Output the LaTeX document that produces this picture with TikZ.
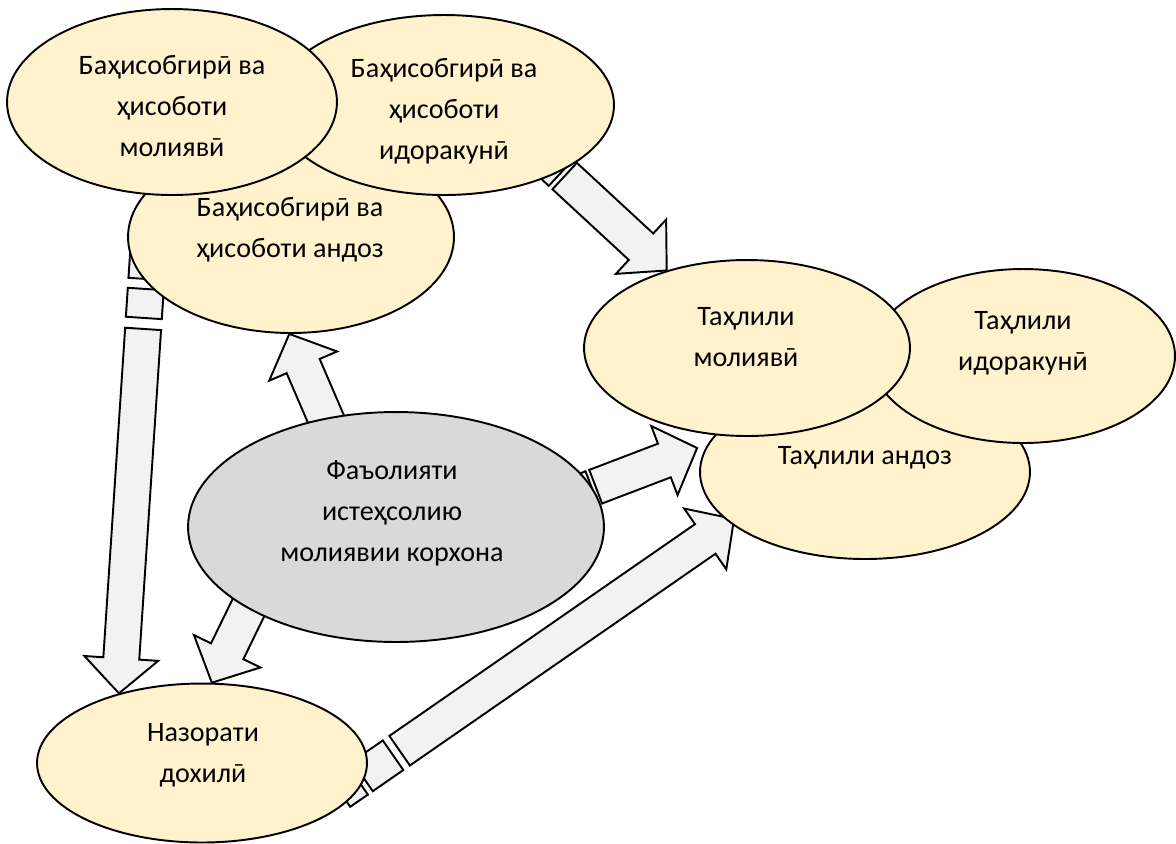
\documentclass[tikz,border=0pt]{standalone}
\usepackage{fontspec}
\setmainfont{Carlito}
\usetikzlibrary{shapes.geometric,calc,backgrounds}
\definecolor{cream}{HTML}{FFF2CC}
\definecolor{firmgray}{HTML}{D9D9D9}
\definecolor{arrowfill}{HTML}{F2F2F2}
\tikzset{
  bubble/.style={ellipse, draw, line width=1.1pt, fill=cream, inner sep=0pt},
  txt/.style={align=center, inner sep=0pt, font=\fontsize{16pt}{23.3pt}\selectfont},
  blockarr/.style={draw, line width=1.1pt, fill=arrowfill, line join=miter}
}
% block arrow from #1 (tail) to #2 (tip)
\newcommand{\blockarrow}[2]{%
  \coordinate (ba-t) at (#1);
  \coordinate (ba-p) at (#2);
  \coordinate (ba-b) at ($(ba-p)!0.7cm!(ba-t)$);
  \draw[blockarr] ($(ba-t)!0.36cm!90:(ba-p)$) -- ($(ba-b)!0.36cm!90:(ba-p)$)
    -- ($(ba-b)!0.74cm!90:(ba-p)$) -- (ba-p) -- ($(ba-b)!0.74cm!-90:(ba-p)$)
    -- ($(ba-b)!0.36cm!-90:(ba-p)$) -- ($(ba-t)!0.36cm!-90:(ba-p)$) -- cycle;}
% cut in the last block arrow, at fraction #1, half width #2
\newcommand{\arrowgap}[2]{%
  \coordinate (ag-a) at ($(ba-t)!#1!(ba-p)$);
  \coordinate (ag-b) at ($(ag-a)!#2!(ba-p)$);
  \coordinate (ag-c) at ($(ag-a)!-#2!(ba-p)$);
  \fill[white] ($(ag-b)!0.45cm!90:(ba-p)$) -- ($(ag-b)!0.45cm!-90:(ba-p)$)
    -- ($(ag-c)!0.45cm!-90:(ba-p)$) -- ($(ag-c)!0.45cm!90:(ba-p)$) -- cycle;
  \draw[line width=1.1pt, line cap=rect] ($(ag-b)!0.36cm!90:(ba-p)$) -- ($(ag-b)!0.36cm!-90:(ba-p)$);
  \draw[line width=1.1pt, line cap=rect] ($(ag-c)!0.36cm!90:(ba-p)$) -- ($(ag-c)!0.36cm!-90:(ba-p)$);}

\begin{document}
\begin{tikzpicture}[x=0.02cm, y=-0.02cm]
    \useasboundingbox (0,0) rectangle (1176,843);
    % accounting
    \node[bubble, minimum width=6.52cm, minimum height=3.84cm] (tax-acc) at (291,237) {};
    \node[txt] (tax-acc-t) at ($(tax-acc.center)+(-1,-7)$) {Баҳисобгирӣ ва\\ҳисоботи андоз};
    \node[bubble, minimum width=6.8cm, minimum height=3.6cm] (mgmt-acc) at (444,105) {};
    \node[txt] (mgmt-acc-t) at ($(mgmt-acc.center)+(0,6)$) {Баҳисобгирӣ ва\\ҳисоботи\\идоракунӣ};
    \node[bubble, minimum width=6.6cm, minimum height=3.72cm] (fin-acc) at (172,102) {};
    \node[txt] (fin-acc-t) at ($(fin-acc.center)+(0,4)$) {Баҳисобгирӣ ва\\ҳисоботи\\молиявӣ};
    % analysis
    \node[bubble, minimum width=6.6cm, minimum height=3.48cm] (tax-an) at (865,472) {};
    \node[txt] (tax-an-t) at ($(tax-an.center)+(0,-14)$) {Таҳлили андоз};
    \node[bubble, minimum width=6.08cm, minimum height=3.48cm] (mgmt-an) at (1023,356) {};
    \node[txt] (mgmt-an-t) at ($(mgmt-an.center)+(0,-13)$) {Таҳлили\\идоракунӣ};
    \node[bubble, minimum width=6.52cm, minimum height=3.52cm] (fin-an) at (747,348) {};
    \node[txt] (fin-an-t) at ($(fin-an.center)+(-1,-11)$) {Таҳлили\\молиявӣ};
    % firm and control
    \node[bubble, fill=firmgray, minimum width=8.32cm, minimum height=4.6cm] (firm) at (396,527) {};
    \node[txt] (firm-t) at ($(firm.center)+(-4,-14)$) {Фаъолияти\\истеҳсолию\\молиявии корхона};
    \node[bubble, minimum width=6.6cm, minimum height=3.18cm] (control) at (202,763) {};
    \node[txt] (control-t) at ($(control.center)+(1,-8)$) {Назорати\\дохилӣ};

    \begin{pgfonlayer}{background}
    \blockarrow{$(tax-acc.center)+(-142,3)$}{control.140}
    \arrowgap{0.097}{0.1cm}
    \arrowgap{0.184}{0.11cm}
    \blockarrow{$(mgmt-acc.center)+(86,39)$}{fin-an.136}
    \arrowgap{0.24}{0.05cm}
    \blockarrow{$(firm.center)+(-55,-73)$}{tax-acc.-91}
    \blockarrow{$(firm.center)+(-118,20)$}{control.83}
    \blockarrow{$(firm.center)+(115,-8)$}{$(tax-an.west)+(-2,-24)$}
    \arrowgap{0.445}{0.04cm}
    \blockarrow{$(control.center)+(138,29)$}{$(tax-an.center)+(-131,47)$}
    \arrowgap{0.143}{0.08cm}
    \arrowgap{0.051}{0.06cm}
    \end{pgfonlayer}
\end{tikzpicture}
\end{document}
